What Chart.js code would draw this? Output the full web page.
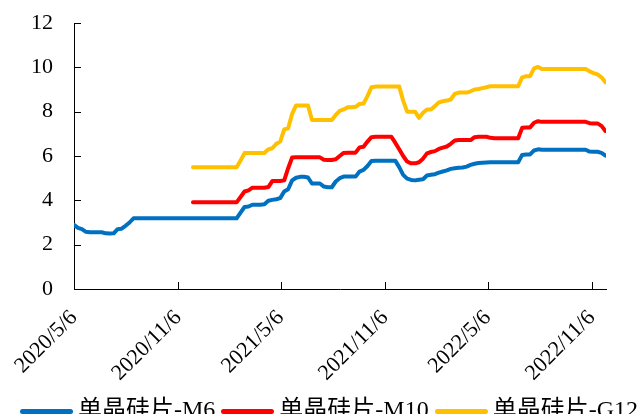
<!DOCTYPE html>
<html>
<head>
<meta charset="utf-8">
<script src="https://cdn.jsdelivr.net/npm/chart.js@4/dist/chart.umd.min.js"></script>
<style>
  html, body { margin: 0; padding: 0; background: #fff; overflow: hidden; }
  #wrap { position: relative; width: 638px; height: 414px; overflow: hidden; }
  #legend {
    position: absolute; left: 20px; top: 395px; white-space: nowrap;
    font-family: "Liberation Serif", "Noto Sans CJK SC", serif; font-size: 24px;
    line-height: 28px; color: #000;
  }
  #legend .item { display: inline-block; margin-right: 6px; }
  #legend .swatch { display: inline-block; width: 53px; height: 5px; border-radius: 3px; vertical-align: middle; margin-right: 5px; }
</style>
</head>
<body>
<div id="wrap">
  <canvas id="chart" width="638" height="414"></canvas>
  <div id="legend"></div>
</div>
<script>
// Weekly wafer price series (元/片), first week 2020/5/6
const firstWeek = '2020-05-06';
const tickLabels = ['2020/5/6', '2020/11/6', '2021/5/6', '2021/11/6', '2022/5/6', '2022/11/6'];
const seriesNames = ['单晶硅片-M6', '单晶硅片-M10', '单晶硅片-G12'];
const seriesColors = ['#0070C0', '#FF0000', '#FFC000'];

// M6 is quoted from the first week
const m6 = [
  2.89, 2.76, 2.7, 2.58, 2.56, 2.56, 2.56, 2.56, 2.51, 2.5, 2.51, 2.7, 2.72, 2.85, 3.0, 3.19,
  3.19, 3.19, 3.19, 3.19, 3.19, 3.19, 3.19, 3.19, 3.19, 3.19, 3.19, 3.19, 3.19,
  3.19, 3.19, 3.19, 3.19, 3.19, 3.19, 3.19, 3.19, 3.19, 3.19, 3.19, 3.19, 3.19,
  3.45, 3.7, 3.72, 3.8, 3.8, 3.8, 3.82, 3.98, 4.02, 4.05, 4.1, 4.4, 4.5, 4.9, 5.02, 5.06, 5.06, 5.03,
  4.76, 4.76, 4.76, 4.62, 4.59, 4.59, 4.85, 5.0, 5.07, 5.07, 5.07, 5.07, 5.3, 5.37, 5.55, 5.77,
  5.79, 5.79, 5.79, 5.79, 5.79, 5.79,
  5.5, 5.15, 4.98, 4.92, 4.9, 4.93, 4.95, 5.12, 5.15, 5.18, 5.25, 5.3, 5.35, 5.42, 5.45, 5.47,
  5.48, 5.52, 5.6, 5.65, 5.68, 5.7, 5.71,
  5.72, 5.72, 5.72, 5.72, 5.72, 5.72, 5.72, 5.72,
  6.05, 6.07, 6.07, 6.25, 6.3,
  6.28, 6.28, 6.28, 6.28, 6.28, 6.28, 6.28, 6.28, 6.28, 6.28, 6.28, 6.28,
  6.2, 6.19, 6.19, 6.14, 6.02
];

// M10 and G12 quotes begin in week 30
const largeStartWeek = 30;
const m10 = [
  3.91, 3.91, 3.91, 3.91, 3.91, 3.91, 3.91, 3.91, 3.91, 3.91, 3.91, 3.91,
  4.15, 4.4, 4.45, 4.57, 4.57, 4.57, 4.57, 4.6, 4.87, 4.87, 4.87, 4.9, 5.45, 5.93,
  5.94, 5.94, 5.94, 5.94, 5.94, 5.94, 5.94,
  5.83, 5.82, 5.82, 5.85, 6.0, 6.14, 6.15, 6.15, 6.15, 6.39, 6.42, 6.65, 6.85,
  6.87, 6.87, 6.87, 6.87, 6.87,
  6.6, 6.3, 6.0, 5.75, 5.67, 5.67, 5.72, 5.88, 6.12, 6.18, 6.22, 6.32, 6.38, 6.43, 6.55, 6.7,
  6.72, 6.72, 6.72, 6.72, 6.85, 6.87, 6.87, 6.87, 6.82,
  6.8, 6.8, 6.8, 6.8, 6.8, 6.8, 6.8,
  7.27, 7.29, 7.29, 7.5, 7.57,
  7.54, 7.54, 7.54, 7.54, 7.54, 7.54, 7.54, 7.54, 7.54, 7.54, 7.54, 7.54,
  7.48, 7.47, 7.47, 7.36, 7.13
];
const g12 = [
  5.49, 5.49, 5.49, 5.49, 5.49, 5.49, 5.49, 5.49, 5.49, 5.49, 5.49, 5.49,
  5.8, 6.13, 6.14, 6.14, 6.14, 6.14, 6.14, 6.3, 6.35, 6.55, 6.65, 7.2, 7.25, 7.9,
  8.28, 8.28, 8.28, 8.28,
  7.62, 7.62, 7.62, 7.62, 7.62, 7.62,
  7.85, 8.04, 8.1, 8.2, 8.2, 8.22, 8.35, 8.37, 8.7, 9.1,
  9.13, 9.13, 9.13, 9.13, 9.13, 9.13, 9.13,
  8.5, 8.0, 8.0, 8.0, 7.72, 7.95, 8.1, 8.1, 8.25, 8.42, 8.47, 8.5, 8.55, 8.8,
  8.86, 8.86, 8.86, 8.92, 9.0, 9.02, 9.06, 9.1,
  9.15, 9.15, 9.15, 9.15, 9.15, 9.15, 9.15, 9.15,
  9.55, 9.6, 9.6, 9.95, 10.02,
  9.92, 9.92, 9.92, 9.92, 9.92, 9.92, 9.92, 9.92, 9.92, 9.92, 9.92, 9.92,
  9.82, 9.74, 9.68, 9.55, 9.33
];

const DAY = 86400000;
function parseDay(s) {
  const p = s.split(/[-\/]/).map(Number);
  return Date.UTC(p[0], p[1] - 1, p[2]);
}
const origin = parseDay(firstWeek);
const tickDays = tickLabels.map(t => Math.round((parseDay(t) - origin) / DAY));

// day offset of each weekly observation
function toPoints(values, startWeek) {
  return values.map((v, i) => ({ x: (startWeek + i) * 7, y: v }));
}
const lastDay = (m6.length - 1) * 7;

const serif = '"Liberation Serif", "Times New Roman", serif';

// inward-pointing tick marks on both axes
const innerTicks = {
  id: 'innerTicks',
  afterDatasetsDraw(chart) {
    const { ctx, scales: { x, y }, chartArea } = chart;
    ctx.save();
    ctx.strokeStyle = '#000';
    ctx.lineWidth = 1;
    ctx.beginPath();
    x.ticks.forEach(t => {
      const px = Math.round(x.getPixelForValue(t.value)) + 0.5;
      ctx.moveTo(px, chartArea.bottom);
      ctx.lineTo(px, chartArea.bottom - 7);
    });
    y.ticks.forEach(t => {
      const py = Math.round(y.getPixelForValue(t.value)) + 0.5;
      ctx.moveTo(chartArea.left, py);
      ctx.lineTo(chartArea.left + 7, py);
    });
    ctx.stroke();
    ctx.restore();
  }
};

const chart = new Chart(document.getElementById('chart'), {
  type: 'line',
  data: {
    datasets: [
      { label: seriesNames[0], data: toPoints(m6, 0) },
      { label: seriesNames[1], data: toPoints(m10, largeStartWeek) },
      { label: seriesNames[2], data: toPoints(g12, largeStartWeek) }
    ].map((d, i) => Object.assign(d, {
      borderColor: seriesColors[i],
      backgroundColor: seriesColors[i],
      borderWidth: 4,
      pointRadius: 0,
      tension: 0,
      borderJoinStyle: 'round',
      borderCapStyle: 'round'
    }))
  },
  options: {
    responsive: false,
    animation: false,
    layout: { padding: { top: 23, right: 32, left: 0, bottom: 0 } },
    plugins: { legend: { display: false }, tooltip: { enabled: false } },
    scales: {
      x: {
        type: 'linear',
        min: 0,
        max: lastDay + 1,
        afterBuildTicks(scale) { scale.ticks = tickDays.map(v => ({ value: v })); },
        afterFit(scale) { scale.height = 125; },
        grid: { display: false, drawTicks: false },
        border: { display: true, color: '#000', width: 1 },
        ticks: {
          autoSkip: false,
          minRotation: 45,
          maxRotation: 45,
          padding: 16,
          color: '#000',
          font: { family: serif, size: 22 },
          callback(value) {
            const i = tickDays.indexOf(value);
            return i >= 0 ? tickLabels[i] : '';
          }
        }
      },
      y: {
        min: 0,
        max: 12,
        afterFit(scale) {
          scale.width = 74;
          scale.paddingTop = 12;
          scale.paddingBottom = 0;
        },
        grid: { display: false, drawTicks: false },
        border: { display: true, color: '#000', width: 1 },
        ticks: {
          stepSize: 2,
          padding: 21,
          color: '#000',
          font: { family: serif, size: 22 }
        }
      }
    }
  },
  plugins: [innerTicks]
});

// legend row built from the chart's datasets
const legend = document.getElementById('legend');
chart.data.datasets.forEach(ds => {
  const item = document.createElement('span');
  item.className = 'item';
  const sw = document.createElement('span');
  sw.className = 'swatch';
  sw.style.background = ds.borderColor;
  const txt = document.createElement('span');
  txt.textContent = ds.label;
  item.appendChild(sw);
  item.appendChild(txt);
  legend.appendChild(item);
});
</script>
</body>
</html>
